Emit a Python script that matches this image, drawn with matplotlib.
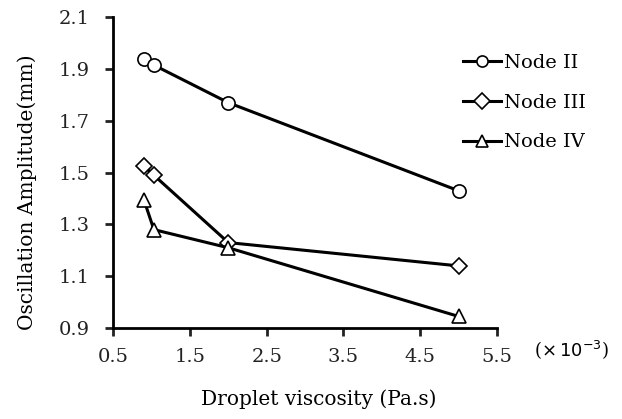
import numpy as np
import matplotlib
matplotlib.use('Agg')
import matplotlib.pyplot as plt

# droplet viscosity (x 10^-3 Pa.s)
visc_2 = [0.9, 1.03, 2.0, 5.0]
amp_node2 = [1.94, 1.915, 1.77, 1.43]
visc_3 = [0.9, 1.03, 2.0, 5.0]
amp_node3 = [1.525, 1.49, 1.23, 1.14]
visc_4 = [0.9, 1.03, 2.0, 5.0]
amp_node4 = [1.395, 1.28, 1.21, 0.945]
labels = ['Node II', 'Node III', 'Node IV']

xticks = [0.5, 1.5, 2.5, 3.5, 4.5, 5.5]
yticks = [0.9, 1.1, 1.3, 1.5, 1.7, 1.9, 2.1]

serif = 'DejaVu Serif'

fig = plt.figure(figsize=(6.22, 4.19), dpi=100)
ax = fig.add_axes([0.182, 0.217, 0.617, 0.742])

lw = 2.2
ax.plot(visc_2, amp_node2, 'k-', marker='o', ms=9.5, mfc='white', mec='black', mew=1.2, lw=lw, label=labels[0])
ax.plot(visc_3, amp_node3, 'k-', marker='D', ms=8.5, mfc='white', mec='black', mew=1.2, lw=lw, label=labels[1])
ax.plot(visc_4, amp_node4, 'k-', marker='^', ms=9.5, mfc='white', mec='black', mew=1.2, lw=lw, label=labels[2])

ax.set_xlim(0.5, 5.5)
ax.set_ylim(0.9, 2.1)
ax.set_xticks(xticks)
ax.set_yticks(yticks)
ax.set_xticklabels(['%.1f' % v for v in xticks], fontfamily=serif, fontsize=14)
ax.set_yticklabels(['%.1f' % v for v in yticks], fontfamily=serif, fontsize=14)
ax.tick_params(direction='out', length=6, width=2, colors='#222222')
ax.tick_params(axis='y', pad=11)
ax.tick_params(axis='x', pad=8)
ax.spines['top'].set_visible(False)
ax.spines['right'].set_visible(False)
ax.spines['left'].set_linewidth(2)
ax.spines['bottom'].set_linewidth(2)

fig.text(27 / 622, 1 - 192 / 419, 'Oscillation Amplitude(mm)', fontfamily=serif, fontsize=14.5,
         rotation=90, ha='center', va='center')
fig.text(0.513, 0.047, 'Droplet viscosity (Pa.s)', fontfamily=serif, fontsize=14.5, ha='center', va='center')
fig.text(0.918, 0.165, r'($\times\,10^{-3}$)', fontfamily=serif, fontsize=13, ha='center', va='center')

leg = ax.legend(loc='upper left', bbox_to_anchor=(0.89, 0.907), frameon=False,
                prop={'family': serif, 'size': 14}, handlelength=2.0, handletextpad=0.15,
                labelspacing=1.12, borderaxespad=0)
for ln in leg.get_lines():
    ln.set_markersize(8)

plt.savefig('out.png', dpi=100)
